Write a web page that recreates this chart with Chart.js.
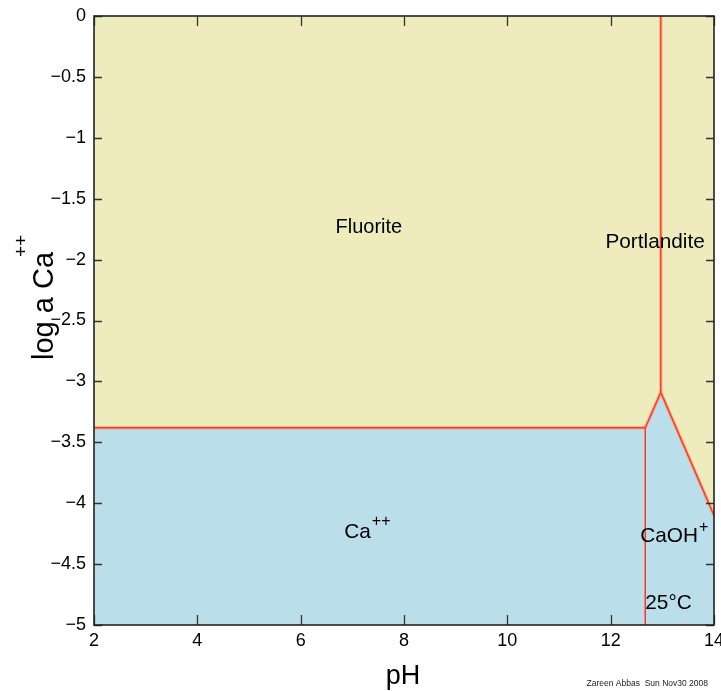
<!DOCTYPE html>
<html>
<head>
<meta charset="utf-8">
<script src="https://cdn.jsdelivr.net/npm/chart.js@4/dist/chart.umd.min.js"></script>
<style>
  body { margin: 0; background: #fff; }
  canvas { display: block; }
</style>
</head>
<body>
<canvas id="diagram" width="721" height="691"></canvas>
<script>
// Ca-F-H2O activity diagram, 25 C

// boundary between the mineral fields (top) and the aqueous species (bottom)
const boundaryPH   = [2, 12.67, 12.97, 14];
const boundaryLogA = [-3.38, -3.38, -3.09, -4.1];

// fluorite / portlandite line
const fluPortPH   = [12.97, 12.97];
const fluPortLogA = [0, -3.09];

// Ca++ / CaOH+ line
const caOhPH   = [12.67, 12.67];
const caOhLogA = [-3.38, -5];

// field names
const regionNames = ['Fluorite', 'Portlandite', 'Ca', 'CaOH', '25°C'];
const regionSup   = ['', '', '++', '+', ''];
const regionPH    = [7.32, 12.86, 7.10, 13.13, 13.12];
const regionLogA  = [-1.78, -1.905, -4.286, -4.32, -4.87];

const xTicks = [2, 4, 6, 8, 10, 12, 14];
const yTicks = [0, -0.5, -1, -1.5, -2, -2.5, -3, -3.5, -4, -4.5, -5];

const FONT = "'Liberation Sans', Arial, sans-serif";
const yellow = '#eeebbd';
const blue = '#bbdeeb';
const red = '#ff3a1a';
const pink = 'rgba(255,140,120,0.55)';

function pts(xs, ys) {
  return xs.map((x, i) => ({ x: x, y: ys[i] }));
}

// inward tick marks, frame, labels and axis titles
const decorations = {
  id: 'decorations',
  afterDatasetsDraw(chart) {
    const ctx = chart.ctx;
    const a = chart.chartArea;
    const xs = chart.scales.x, ys = chart.scales.y;
    ctx.save();

    // tick marks pointing into the plot
    ctx.strokeStyle = '#333';
    ctx.lineWidth = 1.3;
    ctx.beginPath();
    xTicks.forEach(v => {
      const px = Math.round(xs.getPixelForValue(v)) + 0.5;
      ctx.moveTo(px, a.bottom); ctx.lineTo(px, a.bottom - 10);
      ctx.moveTo(px, a.top); ctx.lineTo(px, a.top + 10);
    });
    yTicks.forEach(v => {
      const py = Math.round(ys.getPixelForValue(v)) + 0.5;
      ctx.moveTo(a.left, py); ctx.lineTo(a.left + 8, py);
      ctx.moveTo(a.right, py); ctx.lineTo(a.right - 8, py);
    });
    ctx.stroke();

    // frame
    ctx.strokeStyle = '#222';
    ctx.lineWidth = 1.6;
    ctx.strokeRect(a.left, a.top, a.right - a.left, a.bottom - a.top);

    // field labels
    ctx.fillStyle = '#000';
    ctx.textBaseline = 'alphabetic';
    regionNames.forEach((name, i) => {
      const px = xs.getPixelForValue(regionPH[i]);
      const py = ys.getPixelForValue(regionLogA[i]);
      ctx.font = (i === 0 ? '20px ' : '20.8px ') + FONT;
      ctx.textAlign = 'center';
      ctx.fillText(name, px, py);
      if (regionSup[i]) {
        const w = ctx.measureText(name).width;
        ctx.font = '16px ' + FONT;
        ctx.textAlign = 'left';
        ctx.fillText(regionSup[i], px + w / 2 + 1, py - (name === 'Ca' ? 12 : 10));
      }
    });

    // x axis title
    ctx.font = '27px ' + FONT;
    ctx.textAlign = 'center';
    ctx.fillText('pH', 403, 684);

    // y axis title (rotated, with superscript)
    ctx.save();
    ctx.translate(53, 306);
    ctx.rotate(-Math.PI / 2);
    ctx.font = '29px ' + FONT;
    ctx.textAlign = 'center';
    ctx.fillText('log a Ca', 0, 0);
    ctx.font = '19px ' + FONT;
    ctx.textAlign = 'left';
    ctx.fillText('++', 49, -26);
    ctx.restore();

    // stamp
    ctx.font = '8.5px ' + FONT;
    ctx.textAlign = 'right';
    ctx.fillStyle = '#222';
    ctx.fillText('Zareen Abbas  Sun Nov30 2008', 708, 686);

    ctx.restore();
  }
};

function lineSet(xs, ys, color, width, order) {
  return {
    data: pts(xs, ys),
    showLine: true,
    fill: false,
    borderColor: color,
    borderWidth: width,
    pointRadius: 0,
    order: order
  };
}

const chart = new Chart(document.getElementById('diagram'), {
  type: 'scatter',
  data: {
    datasets: [
      {
        // mineral fields
        data: pts(boundaryPH, boundaryLogA),
        showLine: true,
        fill: 'end',
        backgroundColor: yellow,
        borderWidth: 0,
        pointRadius: 0,
        order: 3
      },
      {
        // aqueous fields
        data: pts(boundaryPH, boundaryLogA),
        showLine: true,
        fill: 'start',
        backgroundColor: blue,
        borderWidth: 0,
        pointRadius: 0,
        order: 3
      },
      // soft halo under the phase boundaries
      lineSet(boundaryPH, boundaryLogA, pink, 3.5, 2),
      lineSet(fluPortPH, fluPortLogA, pink, 3.5, 2),
      // phase boundaries
      lineSet(boundaryPH, boundaryLogA, red, 1.4, 0),
      lineSet(fluPortPH, fluPortLogA, red, 1.4, 0),
      lineSet(caOhPH, caOhLogA, red, 1, 0)
    ]
  },
  options: {
    responsive: false,
    animation: false,
    layout: { padding: { left: 0, right: 7, top: 16, bottom: 0 } },
    plugins: {
      legend: { display: false },
      tooltip: { enabled: false }
    },
    scales: {
      x: {
        type: 'linear',
        min: 2,
        max: 14,
        grid: { drawOnChartArea: false, drawTicks: false },
        border: { display: false },
        afterBuildTicks: s => { s.ticks = xTicks.map(v => ({ value: v })); },
        ticks: {
          autoSkip: false,
          maxRotation: 0,
          padding: 5,
          color: '#000',
          font: { family: FONT, size: 18 }
        },
        afterFit: s => { s.height = 66; s.paddingLeft = 0; s.paddingRight = 0; }
      },
      y: {
        type: 'linear',
        min: -5,
        max: 0,
        grid: { drawOnChartArea: false, drawTicks: false },
        border: { display: false },
        afterBuildTicks: s => { s.ticks = yTicks.map(v => ({ value: v })); },
        ticks: {
          autoSkip: false,
          padding: 8,
          color: '#000',
          font: { family: FONT, size: 18 },
          callback: v => String(v).replace('-', '\u2212')
        },
        afterFit: s => { s.width = 94; s.paddingTop = 0; s.paddingBottom = 0; }
      }
    }
  },
  plugins: [decorations]
});
</script>
</body>
</html>
